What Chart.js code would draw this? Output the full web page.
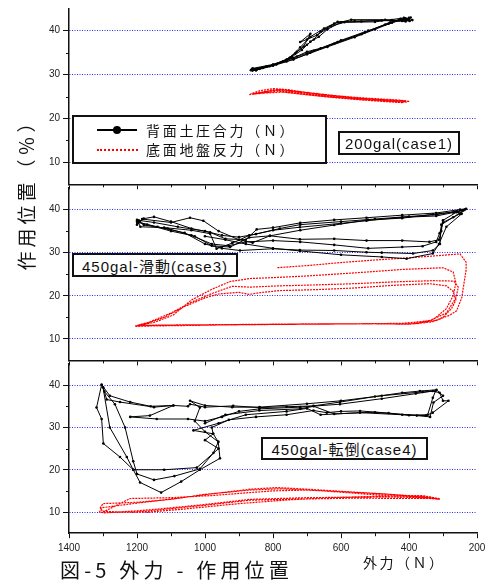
<!DOCTYPE html>
<html>
<head>
<meta charset="utf-8">
<script src="https://cdn.jsdelivr.net/npm/chart.js@4.4.1/dist/chart.umd.min.js"></script>
<style>
  body { margin: 0; background: #fff; }
  #wrap { position: relative; width: 501px; height: 582px; overflow: hidden; background: #fff; }
  canvas { position: absolute; left: 0; }
  .jp { position: absolute; white-space: nowrap; font-family: "Noto Sans CJK JP", sans-serif; color: #111; }
  .box { position: absolute; border: 2px solid #111; background: #fff; box-sizing: border-box;
         display: flex; align-items: center; justify-content: center; white-space: nowrap;
         font-family: "Liberation Sans", "Noto Sans CJK JP", sans-serif; font-size: 15px; letter-spacing: 1px; color: #111; }
</style>
</head>
<body>
<div id="wrap">
  <canvas id="g1" width="501" height="192" style="top:0px"></canvas>
  <canvas id="g2" width="501" height="184" style="top:184px"></canvas>
  <canvas id="g3" width="501" height="222" style="top:360px"></canvas>

  <div class="box" id="legend" style="left:72px;top:115px;width:255px;height:49px;display:block;">
    <div style="position:absolute;left:23px;top:12px;width:40px;height:1.5px;background:#000;"></div>
    <div style="position:absolute;left:39px;top:9px;width:8px;height:8px;border-radius:50%;background:#000;"></div>
    <div style="position:absolute;left:23px;top:31.5px;width:41px;border-top:2px dotted #f00;"></div>
    <div class="jp" id="lg1" style="left:72px;top:3px;font-size:14px;line-height:20px;letter-spacing:2.7px;"></div>
    <div class="jp" id="lg2" style="left:72px;top:22px;font-size:14px;line-height:20px;letter-spacing:2.7px;"></div>
  </div>
  <div class="box" id="lab1" style="left:338px;top:131px;width:122px;height:24px;"></div>
  <div class="box" id="lab2" style="left:72px;top:253px;width:166px;height:24px;"></div>
  <div class="box" id="lab3" style="left:261px;top:437px;width:167px;height:23px;"></div>

  <div class="jp" id="ytitle" style="left:-74px;top:177px;width:200px;text-align:center;line-height:26px;font-size:19px;letter-spacing:4px;transform:rotate(-90deg);"></div>
  <div class="jp" id="xtitle" style="left:363px;top:552px;font-size:14px;line-height:20px;letter-spacing:2.5px;"></div>
  <div class="jp" id="caption" style="left:60px;top:556px;font-size:20px;line-height:28px;letter-spacing:4.2px;"></div>
</div>

<script>
// 系列名・ラベル
const seriesNames = ['背面土圧合力（Ｎ）', '底面地盤反力（Ｎ）'];
const panelLabels = ['200gal(case1)', '450gal-滑動(case3)', '450gal-転倒(case4)'];
const xTitle = '外力（Ｎ）';
const yTitle = '作用位置（％）';
const caption = '図-5 外力 - 作用位置';

// 軸目盛
const yMajor = [10, 20, 30, 40];
const yMinor = [15, 25, 35];
const xMinor = [1300, 1100, 900, 700, 500, 300];

// case1 背面土圧合力 [外力, 作用位置]
const p1Black = [
  [855,31.2],[820,31.8],[760,33.0],[700,34.6],[640,36.3],[560,38.5],[500,40.3],[450,41.8],[420,42.5],[400,42.9],
  [390,42.4],[420,42.2],[480,42.3],[560,42.2],[610,42.0],[650,40.5],[690,38.6],[720,36.2],[750,33.8],[790,32.3],[840,31.3],[860,30.9],
  [850,31.0],[800,32.0],[740,33.4],[690,35.0],[620,37.0],[540,39.2],[470,41.4],[430,42.3],[405,42.6],[395,43.0],
  [410,42.1],[470,42.5],[570,42.5],[620,41.6],[660,39.8],[680,38.0],[700,36.8],[730,35.2],[760,33.4],[810,31.9],[850,31.0],
  [860,31.4],[800,32.3],[740,33.8],[700,35.2],[660,36.0],[600,37.8],[520,40.0],[460,41.6],[425,42.7],[400,42.4],
  [415,42.9],[500,42.0],[590,41.9],[630,41.0],[670,39.0],[700,38.0],[720,37.4],[690,39.3],[710,36.4],[735,34.8],[770,33.0],[830,31.5],[865,31.0],
  [845,31.3],[790,32.4],[730,34.1],[680,35.4],[610,37.4],[530,39.6],[455,41.9],[410,42.8],[398,42.2],
  [450,42.4],[540,42.1],[600,41.9],[640,40.3],[665,38.6],[690,37.5],[715,35.6],[745,34.0],[800,32.2],[862,31.2]
];
// case1 底面地盤反力
const p1Red = [
  [870,25.4],[840,25.9],[800,26.5],[760,26.3],[700,25.7],[620,25.0],[540,24.5],[470,24.1],[420,23.8],[398,23.9],
  [430,24.2],[520,24.6],[620,25.2],[700,25.9],[760,26.6],[800,26.8],[840,26.3],[866,25.6],
  [850,25.8],[800,26.3],[740,26.0],[660,25.3],[580,24.8],[500,24.2],[440,24.0],[405,23.7],
  [440,23.8],[540,24.3],[640,24.9],[720,25.6],[790,26.2],[860,25.5],
  [830,26.0],[780,26.6],[720,26.1],[640,25.4],[560,24.7],[480,24.3],[410,24.0],[420,23.6],
  [500,24.0],[600,24.6],[690,25.3],[770,26.0],[850,25.7]
];

// case3 背面土圧合力
const p2Black = [
  [1195,37.5],[1150,37.0],[1080,36.0],[1000,35.0],[950,34.0],[900,33.6],[850,34.3],[780,35.6],[720,36.5],[600,37.2],
  [500,37.8],[400,38.4],[320,38.8],[260,39.6],[235,40.0],[250,39.0],[300,37.0],[310,34.5],[320,32.5],[360,31.5],
  [420,31.3],[520,31.0],[620,31.8],[720,32.5],[800,32.8],[880,32.5],[930,31.6],[980,32.0],[1040,34.0],[1100,35.0],[1170,36.5],[1200,37.2],
  [1200,36.5],[1180,37.9],[1150,38.3],[1100,37.2],[1040,35.6],[985,34.7],[940,33.2],[880,33.0],[848,35.4],[800,35.8],
  [720,36.9],[620,37.6],[525,38.1],[420,38.7],[320,39.2],[250,40.0],[232,40.2],[260,39.4],[300,37.5],[305,35.0],
  [312,33.0],[340,32.5],[420,32.8],[525,32.8],[620,33.2],[721,33.1],[809,33.9],[870,33.5],[926,31.3],[980,31.6],[1030,33.8],[1110,35.6],[1180,36.4],[1200,37.6],
  [1190,36.0],[1120,35.8],[1040,35.2],[985,34.4],[966,30.9],[920,32.2],[870,34.0],[800,35.2],[721,35.9],[600,36.8],
  [525,37.4],[420,38.2],[320,38.5],[270,39.3],[240,39.8],[270,38.2],[305,36.5],[309,32.0],[330,30.5],[388,29.8],
  [480,30.0],[525,30.1],[620,30.5],[721,30.6],[800,30.9],[897,30.5],[950,31.0],[1000,32.0],[1060,34.6],[1140,36.0],[1195,37.0],
  [1185,37.8],[1100,37.0],[1044,38.1],[1005,37.4],[960,35.0],[900,33.0],[860,32.3],[809,33.9],[720,35.2],[620,36.4],
  [520,37.6],[420,38.0],[330,38.9],[260,39.5],[245,39.0],[290,36.0],[312,32.0],[330,29.8],[407,28.6],[480,29.0],
  [600,29.5],[721,30.4],[800,31.0],[880,32.0],[940,33.0],[1000,33.8]
];
// case3 底面地盤反力
const p2Red = [
  [1205,12.9],[1150,13.0],[1050,13.1],[900,13.3],[750,13.4],[600,13.5],[450,13.5],[380,13.5],[330,14.0],[300,15.0],
  [275,17.0],[262,19.0],[270,21.0],[290,22.3],[340,22.8],[450,22.4],[560,21.8],[680,21.4],[780,21.2],[840,20.7],
  [870,20.3],[900,20.8],[960,20.4],[1000,19.5],[1060,17.5],[1120,15.0],[1170,13.6],[1205,13.0],
  [1150,13.1],[1000,13.2],[850,13.3],[700,13.4],[550,13.5],[420,13.6],[340,14.2],[290,16.0],[262,19.5],[255,22.0],
  [268,23.4],[330,23.5],[450,23.2],[560,22.8],[680,22.5],[780,22.3],[868,22.0],[920,22.2],[980,20.5],[1040,18.5],
  [1100,16.0],[1160,14.0],[1200,13.1],
  [1120,13.2],[950,13.3],[800,13.4],[650,13.5],[500,13.5],[400,13.4],[330,14.4],[290,17.0],[270,20.0],[262,23.0],
  [270,25.5],[300,26.5],[420,26.1],[560,25.3],[700,24.6],[800,24.2],[868,24.0],[926,23.3],[980,21.5],[1040,19.0],
  [1094,15.5],[1150,13.8],[1200,13.1],
  [1100,13.2],[900,13.3],[700,13.4],[500,13.5],[397,13.4],[319,14.3],[280,15.5],[260,16.5],[245,19.5],[238,23.0],
  [232,26.0],[232,27.8],[250,29.7],[300,29.4],[400,28.8],[500,28.3],[600,27.7],[700,27.0],[789,26.5]
];

// case4 背面土圧合力
const p3Black = [
  [1304,40.1],[1280,37.5],[1220,36.0],[1160,35.0],[1093,35.2],[1050,35.0],[1044,35.5],[1000,34.8],[917,35.1],[838,34.7],
  [760,34.9],[681,35.1],[603,36.0],[500,37.3],[420,38.2],[368,38.6],[319,38.9],[300,37.5],[328,35.9],[338,32.5],
  [377,32.8],[460,33.4],[544,33.9],[600,33.8],[642,33.5],[681,34.0],[760,33.0],[850,32.5],[930,31.8],[980,30.0],
  [976,28.5],[961,26.6],[956,22.7],[1015,20.0],[1070,17.2],[1129,14.6],[1191,17.0],[1211,20.0],[1250,23.0],[1299,26.2],
  [1304,32.0],[1319,34.7],[1304,40.1],
  [1300,39.5],[1289,36.6],[1250,36.0],[1150,34.8],[1093,35.2],[1162,32.8],[1220,32.5],[1142,32.0],[1050,32.0],[1000,31.5],
  [950,32.5],[900,33.8],[840,34.4],[720,34.8],[603,35.5],[480,36.8],[380,38.0],[330,38.6],[310,38.2],[300,36.3],
  [284,36.3],[330,33.5],[350,32.8],[420,33.0],[544,33.5],[660,33.0],[700,34.5],[760,33.8],[880,33.0],[960,31.0],
  [1034,29.3],[976,28.5],[1000,27.0],[960,25.0],[1024,20.5],[1120,20.0],[1211,20.0],[1230,23.0],[1280,30.0],[1300,39.5],
  [1296,38.5],[1265,35.5],[1235,30.0],[1211,22.0],[1200,19.0],[1150,17.6],[1090,18.5],[1015,20.2],[975,24.0],[961,26.6],
  [1000,29.0],[1030,31.5],[1015,34.7],[1044,36.3],[1000,35.2],[920,34.8],[840,34.8],[700,35.6],[600,36.3],[480,37.5],
  [360,38.4],[322,38.6],[330,37.0],[345,33.0],[400,32.9],[500,33.6],[620,33.2],[680,35.0],[720,34.4],[840,34.0],
  [940,33.0],[1000,31.0]
];
// case4 底面地盤反力
const p3Red = [
  [1300,10.2],[1250,10.0],[1162,10.0],[1050,10.8],[900,12.0],[750,12.9],[600,13.5],[450,13.8],[359,13.9],[309,13.1],
  [350,13.5],[476,14.3],[600,14.9],[700,15.4],[789,15.8],[868,15.4],[950,14.6],[1050,13.6],[1150,12.6],[1250,11.6],
  [1305,11.0],[1310,10.0],
  [1295,9.8],[1200,10.3],[1100,11.0],[1000,11.8],[868,13.0],[700,13.4],[574,13.5],[450,13.6],[330,13.3],[310,13.0],
  [400,13.6],[520,14.2],[650,15.0],[780,15.5],[868,15.2],[1000,14.2],[1100,13.0],[1200,12.3],[1300,12.0],[1308,11.0],[1300,10.0],
  [1220,13.2],[1100,13.4],[980,13.9],[868,14.6],[800,15.0],[700,15.2],[600,14.8],[476,14.3],[350,13.6],[312,13.2],
  [400,13.2],[560,13.3],[700,13.1],[868,12.8],[1000,11.6],[1100,10.8],[1200,10.0],[1290,10.0]
];

const blue = 'rgb(40,40,255)';
const toXY = arr => arr.map(p => ({x: p[0], y: p[1]}));

const minorTicks = {
  id: 'minorTicks',
  afterDraw(chart) {
    const {ctx, chartArea, scales} = chart;
    ctx.save();
    ctx.strokeStyle = '#111';
    ctx.lineWidth = 1;
    ctx.beginPath();
    xMinor.forEach(v => {
      const px = Math.round(scales.x.getPixelForValue(v)) + 0.5;
      ctx.moveTo(px, chartArea.bottom);
      ctx.lineTo(px, chartArea.bottom + 3);
    });
    yMinor.forEach(v => {
      const py = Math.round(scales.y.getPixelForValue(v)) + 0.5;
      ctx.moveTo(chartArea.left - 3, py);
      ctx.lineTo(chartArea.left, py);
    });
    ctx.stroke();
    ctx.restore();
  }
};

function panel(id, black, red, padTop, xHeight, showX) {
  const ctx = document.getElementById(id);
  new Chart(ctx, {
    type: 'scatter',
    data: {
      datasets: [{
        label: seriesNames[0],
        data: toXY(black),
        showLine: true,
        borderColor: '#000',
        borderWidth: 1,
        pointRadius: 1.3,
        pointBackgroundColor: '#000',
        pointBorderWidth: 0
      },
      {
        label: seriesNames[1],
        data: toXY(red),
        showLine: true,
        borderColor: 'rgb(255,0,0)',
        borderWidth: 1.2,
        borderDash: [2, 1],
        pointRadius: 0
      }]
    },
    options: {
      responsive: false,
      animation: false,
      layout: { padding: { top: padTop, right: 24, left: 0, bottom: 0 } },
      plugins: { legend: { display: false }, tooltip: { enabled: false } },
      scales: {
        x: {
          type: 'linear',
          reverse: true,
          min: 200,
          max: 1400,
          ticks: {
            display: showX,
            stepSize: 200,
            maxRotation: 0,
            autoSkip: false,
            padding: 4,
            color: '#222',
            font: { family: 'Liberation Sans', size: 10 },
            callback: v => String(v)
          },
          grid: { drawOnChartArea: false, tickLength: 5, tickColor: '#111', tickWidth: 1 },
          border: { color: '#111', width: 1.5 },
          afterFit: s => { s.height = xHeight; s.paddingLeft = 0; s.paddingRight = 0; }
        },
        y: {
          min: 5,
          max: 45,
          afterBuildTicks: s => { s.ticks = yMajor.map(v => ({value: v})); },
          ticks: {
            padding: 3,
            color: '#222',
            font: { family: 'Liberation Sans', size: 10 }
          },
          grid: { color: blue, lineWidth: 1, tickLength: 6, tickColor: '#111', tickWidth: 1 },
          border: { color: '#111', width: 1.5, dash: [1, 1.5] },
          afterFit: s => { s.width = 69; s.paddingTop = 0; s.paddingBottom = 0; }
        }
      }
    },
    plugins: [minorTicks]
  });
}

panel('g1', p1Black, p1Red, 8.7, 7.7, false);
panel('g2', p2Black, p2Red, 0.7, 7.6, false);
panel('g3', p3Black, p3Red, 0.7, 48.8, true);

document.getElementById('lg1').textContent = seriesNames[0];
document.getElementById('lg2').textContent = seriesNames[1];
document.getElementById('lab1').textContent = panelLabels[0];
document.getElementById('lab2').textContent = panelLabels[1];
document.getElementById('lab3').textContent = panelLabels[2];
document.getElementById('xtitle').textContent = xTitle;
document.getElementById('ytitle').textContent = yTitle;
document.getElementById('caption').textContent = caption;
</script>
</body>
</html>
